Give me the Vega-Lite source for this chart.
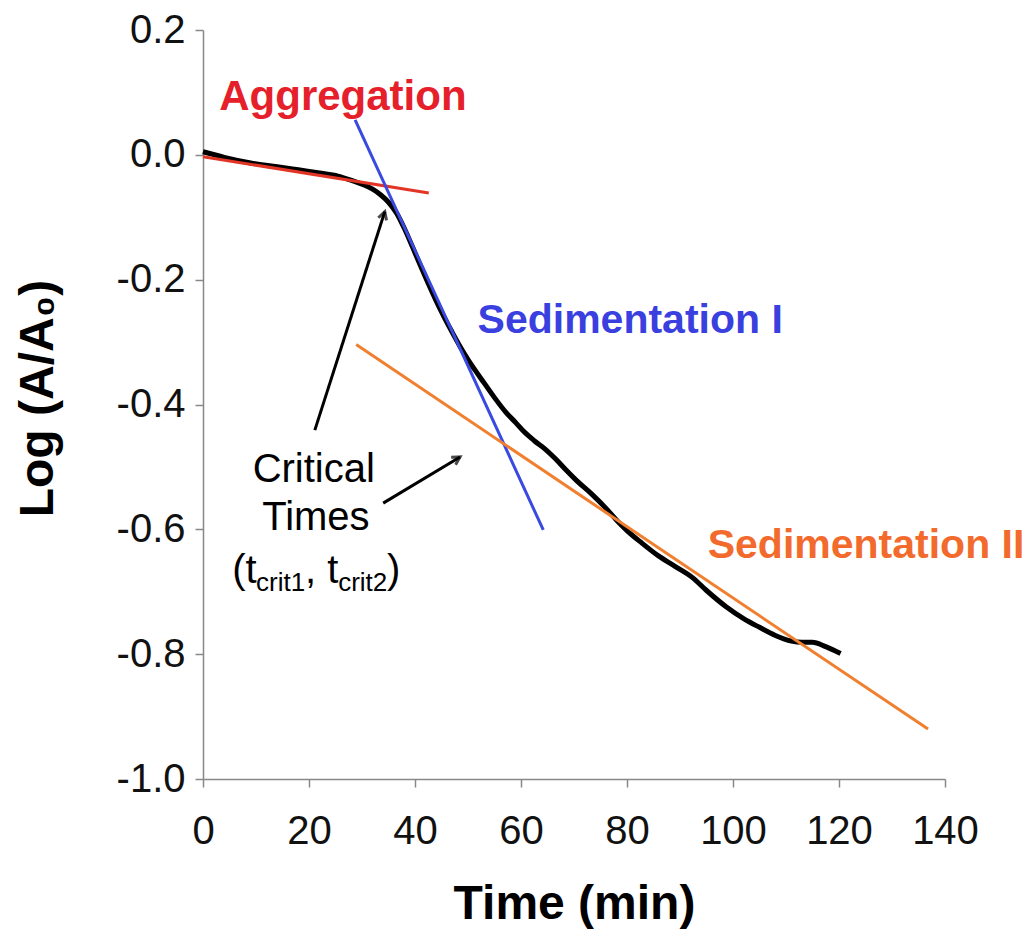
{
  "$schema": "https://vega.github.io/schema/vega-lite/v6.json",
  "width": 742,
  "height": 749,
  "autosize": {"type": "none"},
  "padding": {"left": 203, "top": 30, "right": 88, "bottom": 151},
  "background": "white",
  "config": {
    "view": {"stroke": null},
    "font": "Liberation Sans",
    "axis": {
      "grid": false,
      "domainColor": "#888888",
      "domainWidth": 1.5,
      "tickColor": "#888888",
      "tickWidth": 1.5,
      "tickSize": 8,
      "labelFont": "Liberation Sans",
      "labelFontSize": 40,
      "labelColor": "#111111",
      "labelFlush": false,
      "labelOverlap": false,
      "titleFont": "Liberation Sans",
      "titleFontSize": 48,
      "titleFontWeight": "bold",
      "titleColor": "#000000"
    }
  },
  "datasets": {
    "curve": [
      {"t": 0, "v": 0.005}, {"t": 4, "v": -0.004}, {"t": 9, "v": -0.013}, {"t": 14, "v": -0.019},
      {"t": 18, "v": -0.024}, {"t": 22, "v": -0.029}, {"t": 25, "v": -0.033}, {"t": 28, "v": -0.041},
      {"t": 30, "v": -0.047}, {"t": 32, "v": -0.055}, {"t": 33.5, "v": -0.064}, {"t": 35, "v": -0.076},
      {"t": 36.5, "v": -0.093}, {"t": 38, "v": -0.118}, {"t": 39.5, "v": -0.147}, {"t": 41, "v": -0.177},
      {"t": 42.5, "v": -0.206}, {"t": 44, "v": -0.234}, {"t": 45.5, "v": -0.26}, {"t": 47, "v": -0.284},
      {"t": 48.5, "v": -0.307}, {"t": 50, "v": -0.328}, {"t": 51.5, "v": -0.347}, {"t": 53, "v": -0.365},
      {"t": 55, "v": -0.389}, {"t": 57.2, "v": -0.413}, {"t": 59, "v": -0.429}, {"t": 60.5, "v": -0.443},
      {"t": 62.5, "v": -0.458}, {"t": 64.5, "v": -0.471}, {"t": 66.5, "v": -0.487}, {"t": 68.5, "v": -0.505},
      {"t": 70.5, "v": -0.522}, {"t": 73.4, "v": -0.544}, {"t": 76, "v": -0.566}, {"t": 78, "v": -0.585},
      {"t": 80, "v": -0.602}, {"t": 82.8, "v": -0.622}, {"t": 86, "v": -0.643}, {"t": 89.2, "v": -0.66},
      {"t": 92.3, "v": -0.677}, {"t": 95, "v": -0.698}, {"t": 98.7, "v": -0.724}, {"t": 102, "v": -0.743},
      {"t": 105, "v": -0.757}, {"t": 108, "v": -0.77}, {"t": 111, "v": -0.779}, {"t": 113, "v": -0.781},
      {"t": 115, "v": -0.781}, {"t": 117.5, "v": -0.788}, {"t": 120.3, "v": -0.799}
    ],
    "arrows": [
      {"arrow": "a1", "t": 21.1, "v": -0.441}, {"arrow": "a1", "t": 34.3, "v": -0.091},
      {"arrow": "a2", "t": 34.0, "v": -0.558}, {"arrow": "a2", "t": 48.5, "v": -0.484}
    ]
  },
  "encoding": {
    "x": {"field": "t", "type": "quantitative", "scale": {"domain": [0, 140], "nice": false, "zero": false},
      "axis": {"values": [0, 20, 40, 60, 80, 100, 120, 140], "title": "Time (min)", "labelPadding": 24,
        "titleY": 139, "titleBaseline": "alphabetic"}},
    "y": {"field": "v", "type": "quantitative", "scale": {"domain": [-1.0, 0.2], "nice": false, "zero": false},
      "axis": {"values": [-1.0, -0.8, -0.6, -0.4, -0.2, 0.0, 0.2], "format": ".1f",
        "labelExpr": "replace(datum.label, '\u2212', '-')", "title": "Log (A/A₀)",
        "labelPadding": 10, "titleX": -151, "titleY": 368, "titleBaseline": "alphabetic", "titleAngle": -90}}
  },
  "layer": [
    {"data": {"name": "curve"}, "mark": {"type": "line", "color": "#000000", "strokeWidth": 5, "interpolate": "monotone"}},
    {"data": {"values": [{"t": 0, "v": -0.003}, {"t": 42.6, "v": -0.061}]}, "mark": {"type": "line", "color": "#e23526", "strokeWidth": 3}},
    {"data": {"values": [{"t": 28.7, "v": 0.056}, {"t": 64.2, "v": -0.601}]}, "mark": {"type": "line", "color": "#3a4ae0", "strokeWidth": 3}},
    {"data": {"values": [{"t": 28.9, "v": -0.304}, {"t": 136.8, "v": -0.92}]}, "mark": {"type": "line", "color": "#f08030", "strokeWidth": 3}},
    {"data": {"name": "arrows"}, "mark": {"type": "line", "color": "#000000", "strokeWidth": 3},
      "encoding": {"detail": {"field": "arrow"}}},
    {"data": {"values": [{"t": 34.3, "v": -0.091}]},
      "mark": {"type": "point", "shape": "M -0.5 0.9 L 0 0 L 0.5 0.9", "filled": false, "stroke": "#000000", "strokeWidth": 3, "size": 300, "angle": 17.8}},
    {"data": {"values": [{"t": 48.5, "v": -0.484}]},
      "mark": {"type": "point", "shape": "M -0.5 0.9 L 0 0 L 0.5 0.9", "filled": false, "stroke": "#000000", "strokeWidth": 3, "size": 300, "angle": 59.1}},
    {"data": {"values": [{"t": 26.4, "v": 0.072, "label": "Aggregation"}]},
      "mark": {"type": "text", "font": "Liberation Sans", "fontSize": 42, "fontWeight": "bold", "color": "#e5202a", "align": "center", "baseline": "alphabetic"},
      "encoding": {"text": {"field": "label"}}},
    {"data": {"values": [{"t": 80.6, "v": -0.285, "label": "Sedimentation I"}]},
      "mark": {"type": "text", "font": "Liberation Sans", "fontSize": 41, "fontWeight": "bold", "color": "#3a3fe0", "align": "center", "baseline": "alphabetic"},
      "encoding": {"text": {"field": "label"}}},
    {"data": {"values": [{"t": 125.1, "v": -0.646, "label": "Sedimentation II"}]},
      "mark": {"type": "text", "font": "Liberation Sans", "fontSize": 41, "fontWeight": "bold", "color": "#f26b2d", "align": "center", "baseline": "alphabetic"},
      "encoding": {"text": {"field": "label"}}},
    {"data": {"values": [{"t": 20.9, "v": -0.524, "label": "Critical"}, {"t": 21.3, "v": -0.601, "label": "Times"}]},
      "mark": {"type": "text", "font": "Liberation Sans", "fontSize": 40, "color": "#000000", "align": "center", "baseline": "alphabetic"},
      "encoding": {"text": {"field": "label"}}},
    {"data": {"values": [{"t": 5.5, "v": -0.686, "label": "(t"}, {"t": 19.25, "v": -0.686, "label": ", t"}, {"t": 34.7, "v": -0.686, "label": ")"}]},
      "mark": {"type": "text", "font": "Liberation Sans", "fontSize": 40, "color": "#000000", "align": "left", "baseline": "alphabetic"},
      "encoding": {"text": {"field": "label"}}},
    {"data": {"values": [{"t": 10.0, "v": -0.699, "label": "crit1"}, {"t": 25.5, "v": -0.699, "label": "crit2"}]},
      "mark": {"type": "text", "font": "Liberation Sans", "fontSize": 26, "color": "#000000", "align": "left", "baseline": "alphabetic"},
      "encoding": {"text": {"field": "label"}}}
  ]
}
